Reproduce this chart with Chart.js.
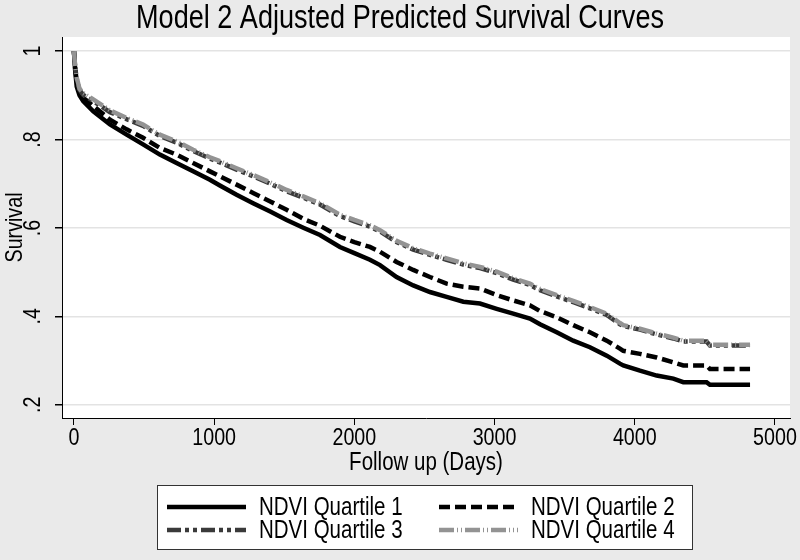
<!DOCTYPE html>
<html>
<head>
<meta charset="utf-8">
<script src="https://cdn.jsdelivr.net/npm/chart.js@4"></script>
<style>
html,body{margin:0;padding:0;background:#eaeaea;}
canvas{display:block;}
</style>
</head>
<body>
<canvas id="c" width="800" height="560"></canvas>
<script>
const FONT = "'Liberation Sans', Arial, sans-serif";
const NARROW = 0.82; // horizontal squeeze to mimic a narrow sans face

const chartTitle = "Model 2 Adjusted Predicted Survival Curves";
const xTitle = "Follow up (Days)";
const yTitle = "Survival";
const seriesNames = ["NDVI Quartile 1", "NDVI Quartile 2", "NDVI Quartile 3", "NDVI Quartile 4"];

const xTicks = [0, 1000, 2000, 3000, 4000, 5000];
const xTickLabels = ["0", "1000", "2000", "3000", "4000", "5000"];
const yTicks = [0.2, 0.4, 0.6, 0.8, 1.0];
const yTickLabels = [".2", ".4", ".6", ".8", "1"];

const days = [0, 8, 20, 40, 66, 138, 257, 376, 493, 613, 732, 850, 970, 1041, 1160, 1278, 1400, 1517, 1640, 1755, 1897, 2000, 2111, 2183, 2301, 2420, 2539, 2658, 2777, 2896, 3015, 3133, 3252, 3324, 3443, 3561, 3680, 3800, 3894, 3918, 4037, 4156, 4275, 4346, 4512, 4536, 4822];

const q1 = [1.0, 0.96, 0.92, 0.90, 0.887, 0.864, 0.834, 0.811, 0.789, 0.766, 0.747, 0.728, 0.709, 0.696, 0.675, 0.656, 0.637, 0.618, 0.600, 0.584, 0.557, 0.543, 0.528, 0.516, 0.489, 0.470, 0.455, 0.444, 0.433, 0.429, 0.417, 0.406, 0.395, 0.382, 0.364, 0.345, 0.330, 0.311, 0.293, 0.289, 0.277, 0.266, 0.259, 0.251, 0.251, 0.245, 0.245];
const q2 = [1.0, 0.965, 0.93, 0.91, 0.895, 0.876, 0.845, 0.823, 0.804, 0.781, 0.766, 0.747, 0.728, 0.717, 0.698, 0.679, 0.660, 0.641, 0.620, 0.605, 0.580, 0.568, 0.557, 0.546, 0.523, 0.505, 0.489, 0.474, 0.467, 0.463, 0.448, 0.436, 0.425, 0.412, 0.398, 0.380, 0.364, 0.345, 0.327, 0.322, 0.315, 0.307, 0.296, 0.289, 0.289, 0.281, 0.281];
const q3 = [1.0, 0.967, 0.936, 0.912, 0.901, 0.887, 0.862, 0.846, 0.831, 0.808, 0.793, 0.774, 0.757, 0.748, 0.732, 0.717, 0.700, 0.683, 0.668, 0.653, 0.627, 0.615, 0.603, 0.592, 0.568, 0.551, 0.539, 0.528, 0.517, 0.509, 0.498, 0.483, 0.471, 0.459, 0.445, 0.432, 0.418, 0.403, 0.382, 0.378, 0.370, 0.359, 0.350, 0.343, 0.343, 0.334, 0.334];
const q4 = [1.0, 0.97, 0.94, 0.915, 0.905, 0.891, 0.866, 0.849, 0.834, 0.811, 0.796, 0.777, 0.760, 0.751, 0.735, 0.720, 0.703, 0.686, 0.671, 0.656, 0.630, 0.618, 0.606, 0.595, 0.571, 0.554, 0.542, 0.531, 0.520, 0.512, 0.501, 0.486, 0.474, 0.462, 0.448, 0.435, 0.421, 0.406, 0.385, 0.380, 0.372, 0.361, 0.352, 0.345, 0.345, 0.336, 0.336];

const seriesValues = [q1, q2, q3, q4];
const seriesColors = ["#000000", "#000000", "#3a3a3a", "#939393"];
const seriesDash = [[], [11, 5], [14, 4, 4, 4, 4, 4], [15, 3, 1, 3, 1, 3]];
const seriesOrder = [4, 3, 2, 1];

const PLOT = {left: 62, top: 37, right: 790, bottom: 418};

// condensed text rendering (text stays real text, just squeezed horizontally)
const canvas = document.getElementById('c');
const g = canvas.getContext('2d');
const origFillText = g.fillText.bind(g);
const origMeasure = g.measureText.bind(g);
g.fillText = function (text, x, y, maxWidth) {
  this.save();
  this.translate(x, y);
  this.scale(NARROW, 1);
  origFillText(text, 0, 0);
  this.restore();
};
g.measureText = function (text) {
  const m = origMeasure(text);
  return {
    width: m.width * NARROW,
    actualBoundingBoxAscent: m.actualBoundingBoxAscent,
    actualBoundingBoxDescent: m.actualBoundingBoxDescent,
    actualBoundingBoxLeft: m.actualBoundingBoxLeft * NARROW,
    actualBoundingBoxRight: m.actualBoundingBoxRight * NARROW
  };
};

const bgPlugin = {
  id: 'bg',
  beforeDraw(chart) {
    const ctx = chart.ctx;
    ctx.save();
    ctx.fillStyle = '#eaeaea';
    ctx.fillRect(0, 0, chart.width, chart.height);
    const a = chart.chartArea;
    ctx.fillStyle = '#ffffff';
    ctx.fillRect(a.left, a.top, a.right - a.left, a.bottom - a.top);
    ctx.restore();
  },
  afterDraw(chart) {
    const ctx = chart.ctx;
    ctx.save();
    ctx.fillStyle = '#000';
    ctx.font = "33px " + FONT;
    ctx.textAlign = 'center';
    ctx.textBaseline = 'middle';
    ctx.fillText(chartTitle, 400, 19);
    const bx = 157, by = 485, bw = 535, bh = 64;
    ctx.fillStyle = '#fff';
    ctx.fillRect(bx, by, bw, bh);
    ctx.strokeStyle = '#333';
    ctx.lineWidth = 1;
    ctx.strokeRect(bx + 0.5, by + 0.5, bw, bh);
    const cols = [{s: 167, e: 246, t: 259}, {s: 439, e: 518, t: 531}];
    const rows = [507, 530];
    ctx.font = "25px " + FONT;
    ctx.textAlign = 'left';
    for (let i = 0; i < 4; i++) {
      const c = cols[i % 2], y = rows[Math.floor(i / 2)];
      ctx.beginPath();
      ctx.setLineDash(seriesDash[i]);
      ctx.strokeStyle = seriesColors[i];
      ctx.lineWidth = 4.5;
      ctx.moveTo(c.s, y);
      ctx.lineTo(c.e, y);
      ctx.stroke();
      ctx.setLineDash([]);
      ctx.fillStyle = '#000';
      ctx.fillText(seriesNames[i], c.t, y + 1);
    }
    ctx.restore();
  }
};

new Chart(canvas, {
  type: 'line',
  data: {
    datasets: seriesValues.map((vals, i) => ({
      label: seriesNames[i],
      data: days.map((d, j) => ({x: d, y: vals[j]})),
      borderColor: seriesColors[i],
      borderDash: seriesDash[i],
      borderWidth: 4.5,
      pointRadius: 0,
      fill: false,
      tension: 0,
      order: seriesOrder[i]
    }))
  },
  options: {
    responsive: false,
    animation: false,
    layout: {padding: {left: 0, top: PLOT.top, right: 800 - PLOT.right, bottom: 560 - PLOT.bottom - 70}},
    plugins: {legend: {display: false}, title: {display: false}, tooltip: {enabled: false}},
    scales: {
      x: {
        type: 'linear',
        min: -85,
        max: 5107,
        afterBuildTicks(s) { s.ticks = xTicks.map(v => ({value: v})); },
        afterFit(s) { s.height = 70; },
        grid: {drawOnChartArea: false, color: '#000', tickColor: '#000', tickLength: 7},
        border: {color: '#000', width: 1},
        ticks: {color: '#000', font: {family: FONT, size: 24}, padding: -1, maxRotation: 0, autoSkip: false,
          callback: (v, i) => xTickLabels[i]},
        title: {display: true, text: xTitle, color: '#000', font: {family: FONT, size: 25}, padding: {top: 0, bottom: 10}}
      },
      y: {
        type: 'linear',
        min: 0.17,
        max: 1.032,
        afterBuildTicks(s) { s.ticks = yTicks.map(v => ({value: v})); },
        afterFit(s) { s.width = PLOT.left; },
        grid: {color: '#e3e3e3', tickColor: '#000', tickLength: 7, lineWidth: 1.5},
        border: {color: '#000', width: 1},
        ticks: {
          color: '#000', font: {family: FONT, size: 24}, padding: 13,
          minRotation: 90, maxRotation: 90, crossAlign: 'center', autoSkip: false,
          callback: (v, i) => yTickLabels[i]
        },
        title: {display: true, text: yTitle, color: '#000', font: {family: FONT, size: 24}, padding: {top: 1, bottom: 0}}
      }
    }
  },
  plugins: [bgPlugin]
});
</script>
</body>
</html>
